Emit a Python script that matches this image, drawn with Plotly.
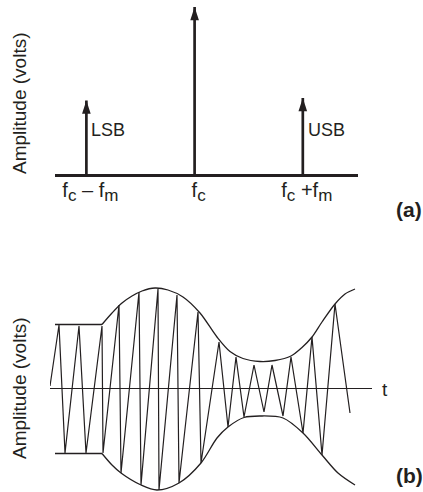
import plotly.graph_objects as go

# ---------------- Panel (a): spectrum of the AM signal ----------------
freq_offsets = [-1, 0, 1]            # frequency, in units of f_m relative to f_c
amplitudes = [0.44, 1.0, 0.455]      # relative amplitude (carrier = 1)
SUB = '<sub><span style="font-size:17px">{}</span></sub>'
freq_labels = ["f" + SUB.format("c") + " – f" + SUB.format("m"),
               "f" + SUB.format("c"),
               "f" + SUB.format("c") + " +f" + SUB.format("m")]
sideband_names = ["LSB", "", "USB"]

# ---------------- Panel (b): AM waveform in time ----------------
carrier_t = [0.00, 0.09, 0.15, 0.29, 0.36, 0.52, 0.53, 0.69, 0.71, 0.89, 0.91, 1.08, 1.09,
             1.27, 1.29, 1.48, 1.51, 1.69, 1.78, 1.86, 1.94, 2.04, 2.14, 2.22, 2.33, 2.41,
             2.53, 2.62, 2.72, 2.85, 3.00]
carrier_v = [0.02, 0.63, -0.65, 0.62, -0.65, 0.62, -0.65, 0.83, -0.85, 0.96, -0.97, 0.99, -1.02,
             0.93, -0.95, 0.76, -0.75, 0.46, -0.39, 0.31, -0.29, 0.23, -0.24, 0.23, -0.28, 0.31,
             -0.45, 0.51, -0.67, 0.84, -0.25]

# envelope: first two points are the flat (unmodulated) part, the rest the modulated curve
env_upper_t = [0.05, 0.52, 0.62, 0.72, 0.82, 0.92, 1.05, 1.18, 1.33, 1.50, 1.67, 1.80, 1.93,
               2.10, 2.25, 2.41, 2.52, 2.62, 2.72, 2.85, 2.95, 3.05]
env_upper_v = [0.635, 0.635, 0.75, 0.85, 0.92, 0.97, 1.00, 0.98, 0.91, 0.75, 0.51, 0.365, 0.295,
               0.265, 0.275, 0.32, 0.405, 0.51, 0.66, 0.84, 0.94, 0.99]
env_lower_t = [0.05, 0.52, 0.62, 0.71, 0.91, 1.07, 1.29, 1.51, 1.67, 1.78, 1.94, 2.10, 2.33,
               2.53, 2.72, 2.88, 3.05]
env_lower_v = [-0.655, -0.655, -0.77, -0.85, -0.97, -1.02, -0.95, -0.75, -0.50, -0.39, -0.295,
               -0.28, -0.30, -0.45, -0.67, -0.85, -0.97]

INK = "#231f20"
FONT = "Liberation Sans, Arial, sans-serif"
W, H = 423, 492

fig = go.Figure()

# stems of the spectral lines
stem_x, stem_y = [], []
for f, a in zip(freq_offsets, amplitudes):
    stem_x += [f, f, None]
    stem_y += [0, a, None]
fig.add_trace(go.Scatter(x=stem_x, y=stem_y, mode="lines",
                         line=dict(color=INK, width=2.7), hoverinfo="skip",
                         xaxis="x", yaxis="y", cliponaxis=False))
# arrow heads
fig.add_trace(go.Scatter(x=freq_offsets, y=amplitudes, mode="markers",
                         marker=dict(symbol="arrow", size=14, color=INK, line=dict(width=0)),
                         hoverinfo="skip", xaxis="x", yaxis="y", cliponaxis=False))

# waveform panel
fig.add_trace(go.Scatter(x=carrier_t, y=carrier_v, mode="lines",
                         line=dict(color=INK, width=1.2), hoverinfo="skip",
                         xaxis="x2", yaxis="y2", cliponaxis=False))
for et, ev in ((env_upper_t, env_upper_v), (env_lower_t, env_lower_v)):
    fig.add_trace(go.Scatter(x=et[:2], y=ev[:2], mode="lines",
                             line=dict(color=INK, width=1.3),
                             hoverinfo="skip", xaxis="x2", yaxis="y2", cliponaxis=False))
    fig.add_trace(go.Scatter(x=et[1:], y=ev[1:], mode="lines",
                             line=dict(color=INK, width=1.3, shape="spline", smoothing=0.9),
                             hoverinfo="skip", xaxis="x2", yaxis="y2", cliponaxis=False))

annotations = []
for f, name in zip(freq_offsets, sideband_names):
    if name:
        annotations.append(dict(x=f, y=0.265, xref="x", yref="y", text=name, showarrow=False,
                                xanchor="left", yanchor="middle", xshift=3,
                                font=dict(family=FONT, size=18, color=INK)))
for yc in (1 - 103 / H, 1 - 388 / H):
    annotations.append(dict(x=19 / W, y=yc, xref="paper", yref="paper",
                            text="Amplitude (volts)", textangle=-90, showarrow=False,
                            xanchor="center", yanchor="middle",
                            font=dict(family=FONT, size=19, color=INK)))
annotations.append(dict(x=385 / W, y=1 - 389 / H, xref="paper", yref="paper", text="t",
                        showarrow=False, xanchor="center", yanchor="middle",
                        font=dict(family=FONT, size=19, color=INK)))
for lab, yc in (("(a)", 1 - 209 / H), ("(b)", 1 - 475 / H)):
    annotations.append(dict(x=409 / W, y=yc, xref="paper", yref="paper", text="<b>" + lab + "</b>",
                            showarrow=False, xanchor="center", yanchor="middle",
                            font=dict(family=FONT, size=21, color=INK)))

fig.update_layout(
    width=W, height=H, margin=dict(l=0, r=0, t=0, b=0),
    paper_bgcolor="white", plot_bgcolor="rgba(0,0,0,0)", showlegend=False,
    font=dict(family=FONT, color=INK),
    xaxis=dict(domain=[55 / W, 358 / W], range=[-1.29, 1.51], showgrid=False, zeroline=False,
               showline=True, linecolor=INK, linewidth=3, ticks="",
               tickvals=freq_offsets, ticktext=freq_labels, ticklabelshift=4,
               ticklabelstandoff=-4,
               tickfont=dict(family=FONT, size=20, color=INK), anchor="y", fixedrange=True),
    yaxis=dict(domain=[1 - 174 / H, 1 - 7 / H], range=[0, 1], visible=False, anchor="x",
               fixedrange=True),
    xaxis2=dict(domain=[50 / W, 372 / W], range=[0, 3.22], visible=False, anchor="y2",
                fixedrange=True),
    yaxis2=dict(domain=[0, 1 - 284 / H], range=[-1.04, 1.04], showgrid=False,
                showticklabels=False, ticks="", showline=False,
                zeroline=True, zerolinecolor=INK, zerolinewidth=1.3, anchor="x2",
                fixedrange=True),
    annotations=annotations,
)

fig.write_html("out.html", config={"displayModeBar": False},
               post_script="document.body.style.margin='0';document.body.style.overflow='hidden';")
